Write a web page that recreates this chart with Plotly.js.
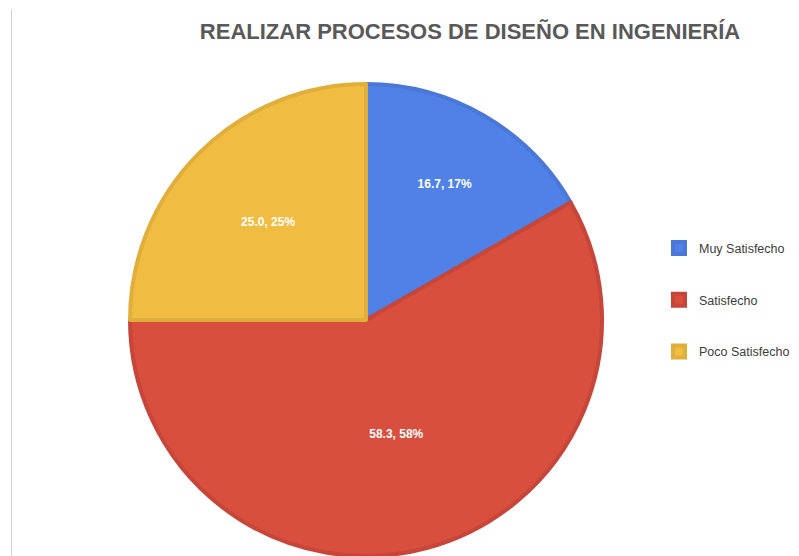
<!DOCTYPE html>
<html>
<head>
<meta charset="utf-8">
<script src="https://cdn.plot.ly/plotly-3.0.1.min.js"></script>
<style>html,body{margin:0;padding:0;background:#fff;}#chart{width:799px;height:556px;}</style>
</head>
<body>
<div id="chart"></div>
<script>
const categories = ["Muy Satisfecho", "Satisfecho", "Poco Satisfecho"];
const values = [16.7, 58.3, 25.0];
const sliceColors = ["#5081E7", "#D84F3E", "#F0BD42"];
const borderColors = ["#4A77D8", "#C7463A", "#DFAE3B"];
const chartTitle = "REALIZAR PROCESOS DE DISEÑO EN INGENIERÍA";

const W = 799, H = 556;
const trace = {
  type: "pie",
  labels: categories.map(c => " <br>" + c + "<br> "),
  values: values,
  sort: false,
  direction: "clockwise",
  rotation: 0,
  marker: { colors: sliceColors, line: { color: borderColors, width: 4 } },
  texttemplate: "%{value:.1f}, %{percent:.0%}",
  textposition: "inside",
  insidetextorientation: "horizontal",
  insidetextfont: { family: "Liberation Sans, Arial, sans-serif", size: 12, color: "#ffffff", weight: "bold" },
  hoverinfo: "label+value+percent",
  domain: { x: [130 / W, 602 / W], y: [0, (H - 84) / H] }
};

const layout = {
  width: W, height: H,
  margin: { l: 0, r: 0, t: 0, b: 0 },
  paper_bgcolor: "#ffffff",
  title: {
    text: "<b>" + chartTitle + "</b>",
    x: 470 / W, xanchor: "center", xref: "container",
    y: 1 - 31 / H, yanchor: "middle", yref: "container",
    font: { family: "Liberation Sans, Arial, sans-serif", size: 22, color: "#595959" }
  },
  showlegend: true,
  legend: {
    x: 659 / W, xanchor: "left", y: 1 - 217 / H, yanchor: "top",
    font: { family: "Liberation Sans, Arial, sans-serif", size: 12.5, color: "#3c3c3c" },
    bgcolor: "rgba(0,0,0,0)"
  },
  shapes: [{
    type: "line", xref: "paper", yref: "paper",
    x0: 11.5 / W, x1: 11.5 / W, y0: 0, y1: 1 - 9 / H,
    line: { color: "#d3d3d3", width: 1 }
  }]
};

Plotly.newPlot("chart", [trace], layout, { displayModeBar: false, staticPlot: true });
</script>
</body>
</html>
